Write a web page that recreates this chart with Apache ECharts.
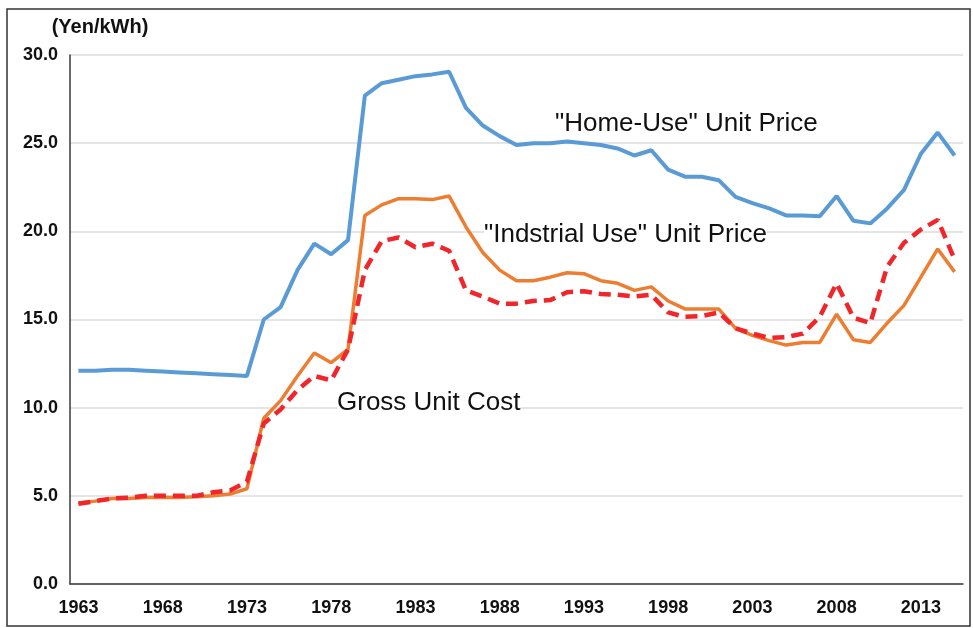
<!DOCTYPE html>
<html>
<head>
<meta charset="utf-8">
<script src="https://cdn.jsdelivr.net/npm/echarts@6/dist/echarts.min.js"></script>
<style>
  html, body { margin: 0; padding: 0; background: #fff; }
  #main { width: 973px; height: 628px; }
</style>
</head>
<body>
<div id="main"></div>
<script>
const years = [];
for (let y = 1963; y <= 2015; y++) years.push(String(y));

// Yen/kWh
const homeUse = [
    12.1, 12.1, 12.15, 12.15, 12.1, 12.05, 12.0, 11.95, 11.9, 11.85, 11.8,
    15.0, 15.7, 17.8, 19.3, 18.7, 19.5,
    27.7, 28.4, 28.6, 28.8, 28.9, 29.05,
    27.0, 26.0, 25.4, 24.9, 25.0, 25.0, 25.1, 25.0, 24.9, 24.7, 24.3, 24.6,
    23.5, 23.1, 23.1, 22.9, 21.95, 21.6, 21.3, 20.9, 20.9, 20.85,
    22.0, 20.6, 20.45, 21.3, 22.35, 24.4, 25.6, 24.3
];
const industrial = [
    4.6, 4.7, 4.85, 4.85, 4.9, 4.9, 4.9, 4.95, 5.0, 5.1, 5.4,
    9.4, 10.4, 11.8, 13.1, 12.55, 13.3,
    20.9, 21.5, 21.85, 21.85, 21.8, 22.0,
    20.25, 18.8, 17.8, 17.2, 17.2, 17.4, 17.65, 17.6, 17.2, 17.05, 16.65, 16.85,
    16.05, 15.6, 15.6, 15.6, 14.5, 14.1, 13.8, 13.55, 13.7, 13.7,
    15.3, 13.85, 13.7, 14.8, 15.8, 17.4, 19.0, 17.7
];
const grossCost = [
    4.55, 4.7, 4.85, 4.9, 5.0, 5.0, 5.0, 5.0, 5.2, 5.3, 5.8,
    9.1, 9.9, 11.0, 11.8, 11.55, 13.3,
    17.8, 19.45, 19.65, 19.1, 19.3, 18.9,
    16.65, 16.3, 15.9, 15.9, 16.05, 16.1, 16.55, 16.6, 16.45, 16.4, 16.3, 16.4,
    15.4, 15.15, 15.2, 15.4, 14.5, 14.2, 13.95, 14.0, 14.2, 15.15,
    17.05, 15.1, 14.8, 18.0, 19.35, 20.1, 20.65, 18.4
];
const seriesNames = ['"Home-Use" Unit Price', '"Indstrial Use" Unit Price', 'Gross Unit Cost'];

const chart = echarts.init(document.getElementById('main'));
const font = '"Liberation Sans", Arial, sans-serif';

// annotation labels sit on a white box so the grid lines stop behind them
function note(text, left, top) {
    return {
        type: 'text', left: left, top: top, z: 10,
        style: { text: text, font: '26px ' + font, fill: '#111', backgroundColor: '#fff' }
    };
}

const option = {
    animation: false,
    backgroundColor: '#fff',
    grid: { left: 70, right: 10, top: 55, bottom: 44 },
    xAxis: {
        type: 'category',
        data: years,
        boundaryGap: true,
        axisLine: { lineStyle: { color: '#3a3a3a', width: 1.5 } },
        axisTick: { show: false },
        axisLabel: {
            interval: 4,
            margin: 15,
            color: '#111',
            fontFamily: font,
            fontWeight: 'bold',
            fontSize: 18
        },
        splitLine: { show: false }
    },
    yAxis: {
        type: 'value',
        min: 0,
        max: 30,
        interval: 5,
        name: '(Yen/kWh)',
        nameLocation: 'end',
        nameGap: 18,
        nameTextStyle: {
            color: '#111',
            fontFamily: font,
            fontWeight: 'bold',
            fontSize: 20,
            align: 'center',
            padding: [0, 0, 0, 60]
        },
        axisLine: { show: true, lineStyle: { color: '#3a3a3a', width: 1.5 } },
        axisTick: { show: false },
        axisLabel: {
            margin: 12,
            color: '#111',
            fontFamily: font,
            fontWeight: 'bold',
            fontSize: 18,
            formatter: v => v.toFixed(1)
        },
        splitLine: { lineStyle: { color: '#dcdcdc', width: 1.5 } }
    },
    series: [
        {
            name: seriesNames[0],
            type: 'line',
            data: homeUse,
            symbol: 'none',
            lineStyle: { color: '#5b9bd5', width: 4 },
            z: 3
        },
        {
            name: seriesNames[1],
            type: 'line',
            data: industrial,
            symbol: 'none',
            lineStyle: { color: '#ed7d31', width: 3.5 },
            z: 3
        },
        {
            name: seriesNames[2],
            type: 'line',
            data: grossCost,
            symbol: 'none',
            lineStyle: { color: '#f0262a', width: 4.5, type: [12, 7] },
            z: 4
        }
    ],
    graphic: [
        {
            type: 'rect',
            shape: { x: 7, y: 9, width: 963, height: 617 },
            style: { fill: 'none', stroke: '#333', lineWidth: 1.5 },
            silent: true
        },
        note(seriesNames[0], 555, 111),
        note(seriesNames[1], 484, 222),
        note(seriesNames[2], 337, 390)
    ]
};

chart.setOption(option);
</script>
</body>
</html>
